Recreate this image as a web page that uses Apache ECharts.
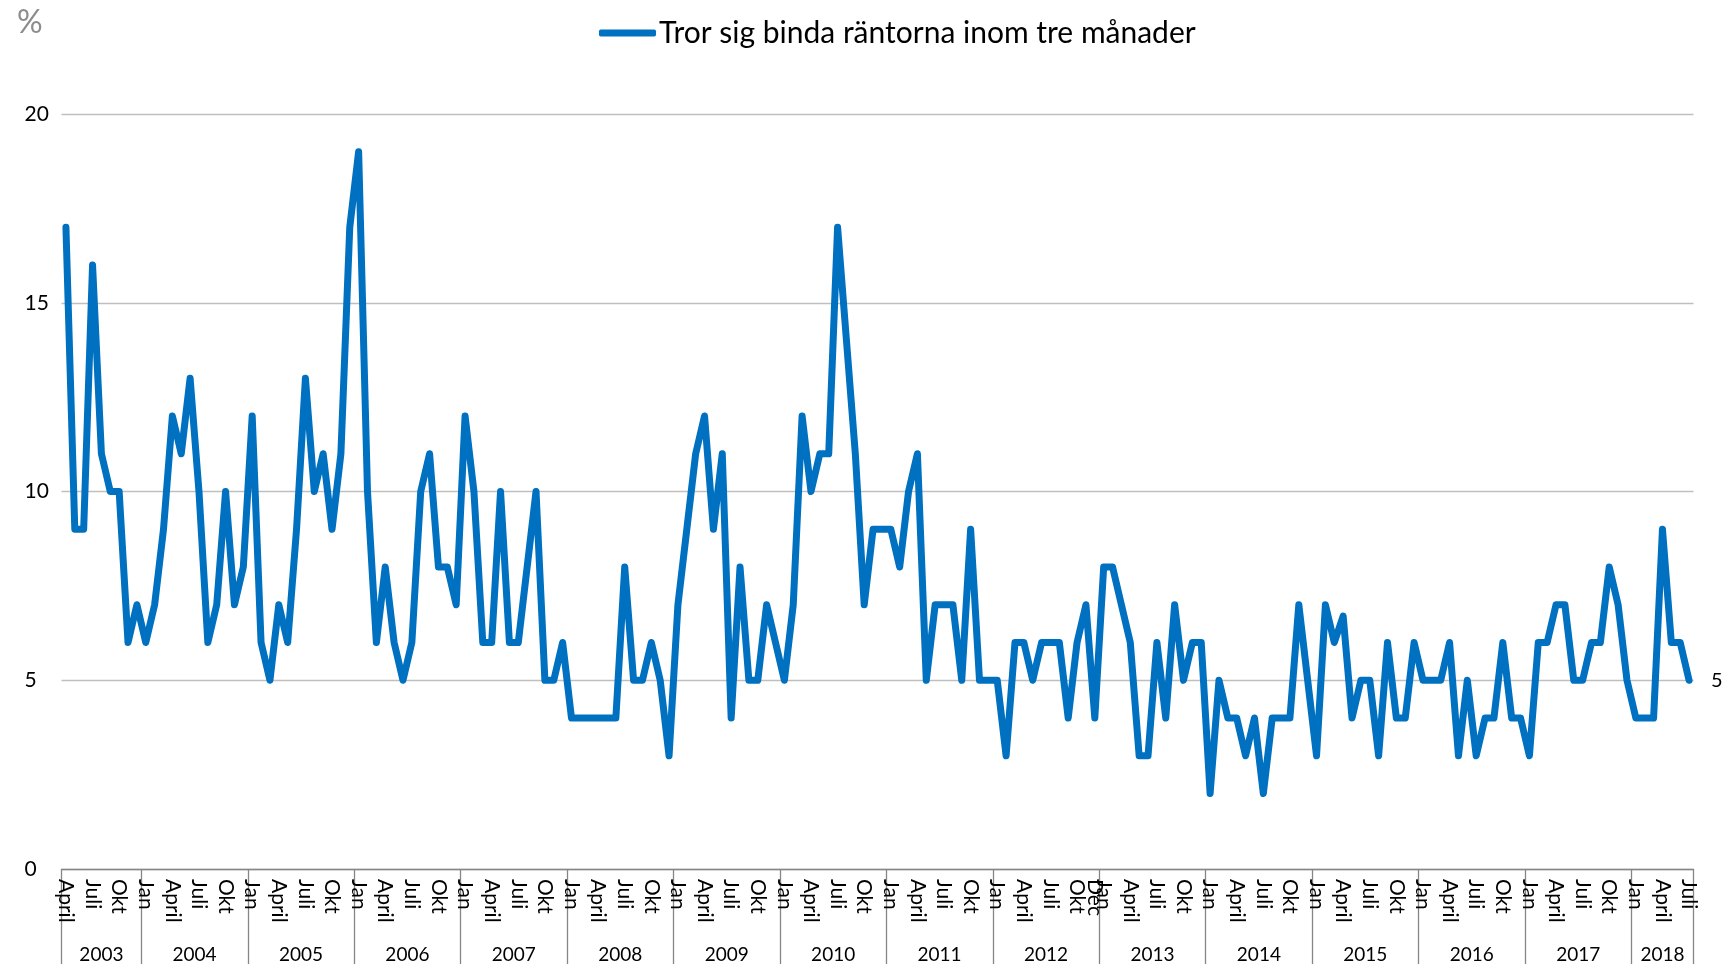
<!DOCTYPE html>
<html><head><meta charset="utf-8">
<script src="https://cdn.jsdelivr.net/npm/echarts@6/dist/echarts.min.js"></script>
<style>html,body{margin:0;padding:0;background:#fff}#c{width:1732px;height:964px}</style>
</head><body><div id="c"></div>
<script>
// ---- data ----
const seriesName = 'Tror sig binda räntorna inom tre månader';
const years = ['2003','2004','2005','2006','2007','2008','2009','2010','2011','2012','2013','2014','2015','2016','2017','2018'];
const firstMonthOfSeries = 4; // April 2003
const v2003 = [17, 9, 9, 16, 11, 10, 10, 6, 7];
const v2004 = [6, 7, 9, 12, 11, 13, 10, 6, 7, 10, 7, 8];
const v2005 = [12, 6, 5, 7, 6, 9, 13, 10, 11, 9, 11, 17];
const v2006 = [19, 10, 6, 8, 6, 5, 6, 10, 11, 8, 8, 7];
const v2007 = [12, 10, 6, 6, 10, 6, 6, 8, 10, 5, 5, 6];
const v2008 = [4, 4, 4, 4, 4, 4, 8, 5, 5, 6, 5, 3];
const v2009 = [7, 9, 11, 12, 9, 11, 4, 8, 5, 5, 7, 6];
const v2010 = [5, 7, 12, 10, 11, 11, 17, 14, 11, 7, 9, 9];
const v2011 = [9, 8, 10, 11, 5, 7, 7, 7, 5, 9, 5, 5];
const v2012 = [5, 3, 6, 6, 5, 6, 6, 6, 4, 6, 7, 4];
const v2013 = [8, 8, 7, 6, 3, 3, 6, 4, 7, 5, 6, 6];
const v2014 = [2, 5, 4, 4, 3, 4, 2, 4, 4, 4, 7, 5];
const v2015 = [3, 7, 6, 6.7, 4, 5, 5, 3, 6, 4, 4, 6];
const v2016 = [5, 5, 5, 6, 3, 5, 3, 4, 4, 6, 4, 4];
const v2017 = [3, 6, 6, 7, 7, 5, 5, 6, 6, 8, 7, 5];
const v2018 = [4, 4, 4, 9, 6, 6, 5];
const yearValues = [v2003,v2004,v2005,v2006,v2007,v2008,v2009,v2010,v2011,v2012,v2013,v2014,v2015,v2016,v2017,v2018];
// month tick labels (month number -> text)
const monthTickLabels = {1:'Jan', 4:'April', 7:'Juli', 10:'Okt'};
const extraTickLabels = {'2012-12':'Dec'};
const yTicks = [0, 5, 10, 15, 20];

// ---- build ----
const categories = [];
const values = [];
const yearCenters = {};
let idx = 0;
years.forEach((y, yi) => {
  const arr = yearValues[yi];
  const m0 = yi === 0 ? firstMonthOfSeries : 1;
  const start = idx;
  arr.forEach((v, k) => {
    const m = m0 + k;
    categories.push(y + '-' + String(m).padStart(2, '0'));
    values.push(v);
    idx++;
  });
  yearCenters[String(start + arr.length / 2)] = y;
});
function monthLabel(cat) {
  if (extraTickLabels[cat]) return extraTickLabels[cat];
  const m = parseInt(cat.slice(5), 10);
  return monthTickLabels[m] || '';
}
const FONT = 'Lato';
const chart = echarts.init(document.getElementById('c'), null, {renderer: 'canvas'});
chart.setOption({
  animation: false,
  backgroundColor: '#ffffff',
  textStyle: {fontFamily: FONT},
  title: {text: '%', left: 12, top: 2, textStyle: {color: '#8c8c8c', fontSize: 32, fontWeight: 'normal', fontFamily: FONT}},
  legend: {
    left: 594, top: 13, icon: 'roundRect', itemWidth: 57, itemHeight: 7, itemGap: 4,
    textStyle: {fontSize: 30, color: '#000', fontFamily: FONT, padding: [0, 0, 0, -2]},
    data: [seriesName]
  },
  grid: {left: 61.5, right: 38.5, top: 114, bottom: 95, containLabel: false},
  xAxis: [{
    type: 'category', data: categories, boundaryGap: true, position: 'bottom',
    axisLine: {show: true, lineStyle: {color: '#868686', width: 1.3}},
    axisTick: {show: true, length: 96, lineStyle: {color: '#868686', width: 1.3},
      interval: (i, v) => i === 0 || v.endsWith('-01')},
    axisLabel: {show: true, rotate: -90, margin: 10, fontSize: 21, color: '#000', fontFamily: FONT,
      padding: [8, 0, 0, 0],
      interval: (i, v) => monthLabel(v) !== '',
      formatter: (v) => monthLabel(v)},
    splitLine: {show: false}
  }, {
    type: 'value', min: 0, max: categories.length, interval: 0.5, position: 'bottom',
    axisLine: {show: false}, axisTick: {show: false}, splitLine: {show: false},
    axisLabel: {show: true, margin: 76, fontSize: 19, color: '#000', fontFamily: FONT,
      showMinLabel: true, showMaxLabel: true,
      formatter: (v) => yearCenters[String(v)] || ''}
  }],
  yAxis: {
    type: 'value', min: yTicks[0], max: yTicks[yTicks.length - 1], interval: 5,
    axisLine: {show: false}, axisTick: {show: false},
    axisLabel: {align: 'left', margin: 37, fontSize: 21, color: '#000', fontFamily: FONT},
    splitLine: {show: true, lineStyle: {color: '#bfbfbf', width: 1.4}}
  },
  series: [{
    name: seriesName, type: 'line', xAxisIndex: 0, data: values,
    showSymbol: false, symbol: 'none', color: '#0070C0',
    lineStyle: {width: 7, color: '#0070C0', cap: 'round', join: 'round'},
    endLabel: {show: true, formatter: '{c}', distance: 22, fontSize: 20, color: '#000', fontFamily: FONT}
  }]
});
</script></body></html>
